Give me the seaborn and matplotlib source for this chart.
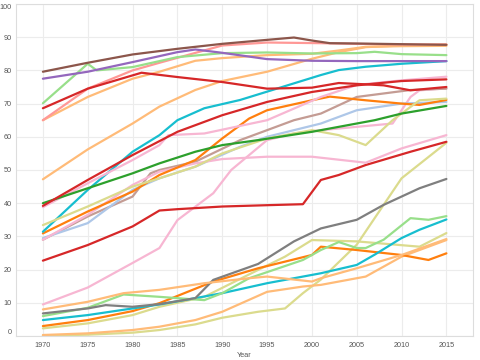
import matplotlib
matplotlib.use("Agg")
import matplotlib.pyplot as plt
import seaborn as sns
import pandas as pd

# ---- data: (year, value) pairs for each series ----
brown_a = [(1970, 79.6), (1975, 82.3), (1980, 84.8), (1985, 86.5), (1990, 88), (1995, 89.2), (1998, 89.9), (2000, 89), (2002, 88.2), (2005, 88.1), (2010, 87.9), (2015, 87.7)]
purple_a = [(1970, 77.5), (1975, 79.6), (1980, 82.5), (1985, 85.5), (1987, 86.3), (1990, 85.3), (1995, 83.4), (2000, 82.9), (2005, 82.8), (2010, 82.8), (2015, 82.8)]
lgreen_a = [(1970, 70.1), (1975, 82), (1976, 80), (1980, 81), (1985, 84), (1990, 85.2), (1995, 85.4), (2000, 85.1), (2005, 85.2), (2007, 85.6), (2010, 84.9), (2015, 84.6)]
red_a = [(1970, 68.6), (1975, 74.5), (1980, 78.5), (1981, 79.3), (1985, 78), (1990, 76.5), (1995, 74.5), (2000, 74.8), (2003, 76.2), (2006, 75.8), (2008, 75.5), (2011, 74), (2015, 75)]
salmon_a = [(1970, 65), (1975, 74.5), (1980, 80), (1983, 82.3), (1990, 87.5), (1995, 88.4), (2001, 88.2), (2005, 88), (2010, 87.8), (2015, 87.8)]
lorange_a = [(1970, 65), (1975, 72), (1980, 77.5), (1983, 79.6), (1987, 82.9), (1990, 83.7), (1995, 84.6), (2000, 85), (2003, 86), (2006, 87.1), (2010, 87.3), (2015, 87.4)]
lorange_b = [(1970, 47.2), (1975, 56.2), (1980, 64), (1983, 69.1), (1987, 74.1), (1990, 76.8), (1995, 79.6), (2000, 83.5), (2003, 85.5), (2006, 87), (2010, 87.5), (2015, 87.8)]
red_b = [(1970, 39.2), (1975, 47), (1980, 54.5), (1985, 61.5), (1990, 66.5), (1995, 70.5), (2000, 73.5), (2005, 75.5), (2010, 76.8), (2015, 77.3)]
green_a = [(1970, 40), (1975, 44.5), (1980, 49), (1983, 52), (1987, 55.5), (1990, 57.5), (1994, 59), (2000, 61.5), (2003, 63), (2007, 65), (2010, 67), (2015, 69.3)]
pink_b = [(1970, 38.8), (1975, 46), (1980, 53), (1983, 57.5), (1984, 60.5), (1988, 61), (1995, 65), (2001, 72), (2005, 75.6), (2010, 77), (2015, 78.1)]
lolive_a = [(1970, 33.4), (1975, 39), (1980, 45), (1983, 47.5), (1987, 51), (1990, 55), (1995, 59.5), (2000, 62), (2003, 60.5), (2006, 57.5), (2009, 65), (2012, 71), (2015, 71.5)]
cyan_a = [(1970, 31.4), (1975, 44), (1980, 55.5), (1983, 60.5), (1985, 65), (1988, 68.6), (1992, 71.1), (1998, 76.1), (2001, 78.6), (2003, 80.1), (2006, 81.1), (2010, 82), (2015, 82.8)]
orange_a = [(1970, 30.9), (1975, 37.5), (1980, 43.5), (1983, 48.5), (1987, 53), (1990, 59.5), (1993, 65.5), (1995, 68), (2000, 71), (2002, 72.1), (2006, 71), (2010, 70), (2012, 69.6), (2015, 71.1)]
pink_a = [(1970, 29), (1975, 36.5), (1980, 45.5), (1983, 49.5), (1987, 52), (1990, 53.3), (1995, 54), (2000, 54), (2006, 52.2), (2010, 56.5), (2015, 60.5)]
lblue_a = [(1970, 29.5), (1975, 34), (1980, 44), (1983, 47.5), (1987, 51), (1992, 57), (1995, 60), (2001, 64), (2005, 68), (2010, 70), (2015, 70.5)]
lbrown_a = [(1970, 29), (1975, 36), (1980, 42), (1982, 49), (1983, 50), (1987, 52.5), (1992, 59), (1998, 65), (2001, 67), (2005, 72), (2011, 74.1), (2015, 74.5)]
red_c = [(1970, 22.7), (1975, 27.4), (1980, 33), (1983, 37.8), (1985, 38.2), (1990, 39), (1995, 39.4), (1999, 39.7), (2001, 47), (2003, 48.5), (2006, 51.5), (2011, 55.5), (2015, 58.5)]
pink_c = [(1970, 9.5), (1975, 14.6), (1980, 22), (1983, 26.5), (1985, 34.9), (1989, 43), (1991, 50), (1995, 59), (1998, 61), (2001, 62), (2005, 63), (2009, 64), (2011, 72), (2012, 74), (2015, 74.6)]
lorange_c = [(1970, 8), (1975, 10.3), (1979, 12.9), (1983, 13.9), (1988, 15.9), (1993, 17.4), (1995, 17.9), (2000, 16.4), (2001, 17.4), (2005, 20.4), (2010, 24.4), (2015, 29.2)]
gray_a = [(1970, 6.8), (1975, 8.3), (1977, 9.3), (1980, 8.8), (1983, 9.6), (1987, 11.4), (1989, 16.9), (1994, 21.7), (1998, 28.5), (2001, 32.4), (2005, 35), (2008, 39.5), (2012, 44.5), (2015, 47.3)]
lgreen_b = [(1970, 6), (1975, 8.5), (1979, 12.5), (1983, 11.8), (1988, 10.8), (1990, 12.9), (1993, 17.4), (1999, 22.9), (2001, 25.9), (2003, 28.3), (2005, 26.5), (2006, 26.5), (2008, 29), (2011, 35.5), (2013, 35), (2015, 36.1)]
cyan_b = [(1970, 4.8), (1975, 6.3), (1980, 8.3), (1983, 9.5), (1987, 11.4), (1990, 12.9), (1995, 15.9), (2001, 18.9), (2005, 21.4), (2007, 24.5), (2010, 29.5), (2012, 32), (2015, 35.1)]
orange_b = [(1970, 3), (1975, 4.8), (1980, 7.5), (1983, 9.9), (1989, 16.4), (1994, 20.4), (2000, 24.4), (2001, 26.9), (2005, 25.9), (2010, 24.4), (2013, 22.9), (2015, 24.9)]
lolive_b = [(1970, 2.3), (1975, 3.8), (1980, 6.3), (1983, 8.8), (1988, 11.8), (1994, 19.9), (1997, 23.9), (2000, 28.9), (2005, 28.5), (2012, 26.9), (2015, 31)]
lorange_d = [(1970, 0.3), (1975, 0.8), (1980, 1.8), (1983, 2.8), (1987, 4.8), (1990, 7.3), (1995, 13.3), (1999, 14.9), (2001, 15.4), (2006, 17.9), (2010, 23.9), (2015, 28.9)]
lolive_c = [(1970, 0.1), (1975, 0.4), (1980, 1.0), (1983, 1.8), (1987, 3.5), (1990, 5.5), (1994, 7.3), (1997, 8.3), (1999, 12.9), (2001, 17), (2005, 27.5), (2010, 47.5), (2015, 58.2)]

x_ticks = [1970, 1975, 1980, 1985, 1990, 1995, 2000, 2005, 2010, 2015]
y_ticks = [0, 10, 20, 30, 40, 50, 60, 70, 80, 90, 100]

series = {
    "lolive_c": lolive_c, "lorange_d": lorange_d, "lolive_b": lolive_b, "orange_b": orange_b,
    "cyan_b": cyan_b, "lgreen_b": lgreen_b, "gray_a": gray_a, "lorange_c": lorange_c,
    "pink_c": pink_c, "red_c": red_c, "lbrown_a": lbrown_a, "lblue_a": lblue_a,
    "pink_a": pink_a, "orange_a": orange_a, "cyan_a": cyan_a, "lolive_a": lolive_a,
    "pink_b": pink_b, "green_a": green_a, "red_b": red_b, "lorange_b": lorange_b,
    "lorange_a": lorange_a, "salmon_a": salmon_a, "red_a": red_a, "lgreen_a": lgreen_a,
    "purple_a": purple_a, "brown_a": brown_a,
}
palette = {
    "brown_a": "#8c564b", "purple_a": "#9467bd", "lgreen_a": "#98df8a", "red_a": "#d62728",
    "salmon_a": "#ff9896", "lorange_a": "#ffbb78", "lorange_b": "#ffbb78", "red_b": "#d62728",
    "green_a": "#2ca02c", "pink_b": "#f7b6d2", "lolive_a": "#dbdb8d", "cyan_a": "#17becf",
    "orange_a": "#ff7f0e", "pink_a": "#f7b6d2", "lblue_a": "#aec7e8", "lbrown_a": "#c49c94",
    "red_c": "#d62728", "pink_c": "#f7b6d2", "lorange_c": "#ffbb78", "gray_a": "#7f7f7f",
    "lgreen_b": "#98df8a", "cyan_b": "#17becf", "orange_b": "#ff7f0e", "lolive_b": "#dbdb8d",
    "lorange_d": "#ffbb78", "lolive_c": "#dbdb8d",
}

rows = []
for name, pts in series.items():
    for yr, val in pts:
        rows.append((name, yr, val))
df = pd.DataFrame(rows, columns=["series", "Year", "value"])

sns.set_theme(style="whitegrid")
plt.rcParams["font.family"] = ["Liberation Sans", "DejaVu Sans"]

fig = plt.figure(figsize=(4.8, 3.6), dpi=100)
ax = fig.add_axes([16 / 480, 24 / 360, 457.3 / 480, 332 / 360])
sns.lineplot(data=df, x="Year", y="value", hue="series", hue_order=list(series.keys()),
             palette=palette, linewidth=1.6, legend=False, ax=ax, sort=False, estimator=None)

ax.set_xlim(1967, 2018)
ax.set_ylim(0, 100)
ax.set_xticks(x_ticks)
ax.set_yticks(y_ticks)
ax.grid(True, color="#ececec", linewidth=0.8)
for s in ax.spines.values():
    s.set_color("#dddddd")
    s.set_linewidth(0.8)
ax.tick_params(axis="both", labelsize=5.2, labelcolor="#555555", length=2, width=0.6,
               color="#cccccc", pad=1)
ax.tick_params(axis="x", pad=2.5)
ylabels = ax.get_yticklabels()
ylabels[0].set_va("bottom")
ylabels[-1].set_va("top")
ax.set_xlabel("Year", fontsize=5.2, color="#555555", labelpad=2)
ax.set_ylabel("")
fig.savefig("out.png", dpi=100)
